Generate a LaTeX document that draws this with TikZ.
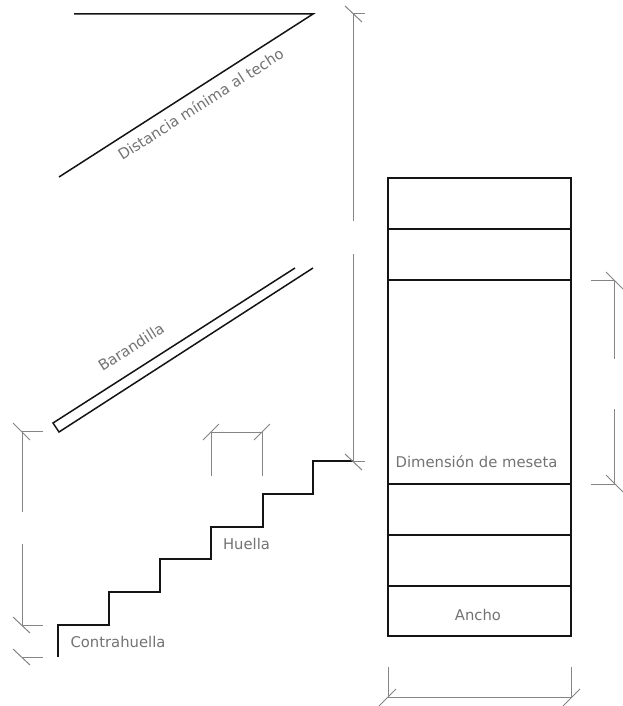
\documentclass[tikz,border=0pt]{standalone}
\usepackage{fontspec}
\setmainfont{DejaVu Sans}
\begin{document}
\begin{tikzpicture}[x=1pt,y=-1pt,
  solidline/.style={draw=black!92,line width=1.5pt,line join=miter},
  dimline/.style={draw=black!48,line width=1pt},
  lbl/.style={text=black!55,font=\fontsize{14.8pt}{17pt}\selectfont,inner sep=0pt}]
\useasboundingbox (0,0) rectangle (623,706);
\fill[white] (0,0) rectangle (623,706);
% ceiling and railing
\draw[solidline] (74,14) -- (313,14) -- (59,177);
\draw[solidline] (295,268) -- (53,423) -- (59,432) -- (313,268);
% stairs
\draw[solidline] (58,657) -- (58,625) -- (109,625) -- (109,592) -- (160,592) -- (160,559) -- (211,559) -- (211,527) -- (263,527) -- (263,494) -- (313,494) -- (313,461) -- (353,461);
% landing plan
\draw[solidline] (388,178) rectangle (571,636);
\draw[solidline] (388,229) -- (571,229) (388,280) -- (571,280) (388,484) -- (571,484) (388,535) -- (571,535) (388,586) -- (571,586);
% left dimension
\draw[dimline] (43,431) -- (22,431) -- (22,512) (22,544) -- (22,625) -- (43,625) (22,657) -- (43,657);
\draw[dimline] (13,423) -- (30,440) (13,617) -- (30,633) (13,649) -- (30,665);
% tread dimension
\draw[dimline] (211,476) -- (211,432) -- (262,432) -- (262,476);
\draw[dimline] (203,440) -- (219,424) (254,440) -- (270,424);
% main height dimension
\draw[dimline] (365,14) -- (353,14) -- (353,221) (353,254) -- (353,461) -- (365,461);
\draw[dimline] (345,6) -- (362,22) (345,454) -- (362,470);
% landing dimension
\draw[dimline] (591,280) -- (614,280) -- (614,359) (614,409) -- (614,484) -- (591,484);
\draw[dimline] (606,272) -- (623,289) (606,475) -- (623,492);
% width dimension
\draw[dimline] (388,667) -- (388,697) -- (571,697) -- (571,667);
\draw[dimline] (379,706) -- (396,689) (563,706) -- (580,689);
% labels
\node[lbl,rotate=32.6] (techo) at (200.5,104) {Distancia mínima al techo};
\node[lbl,rotate=32.6] (barandilla) at (131,347) {Barandilla};
\node[lbl] (contrahuella) at (118,642) {Contrahuella};
\node[lbl] (huella) at (246.5,544) {Huella};
\node[lbl] (meseta) at (476.5,462) {Dimensión de meseta};
\node[lbl] (ancho) at (478,615) {Ancho};
\end{tikzpicture}
\end{document}
